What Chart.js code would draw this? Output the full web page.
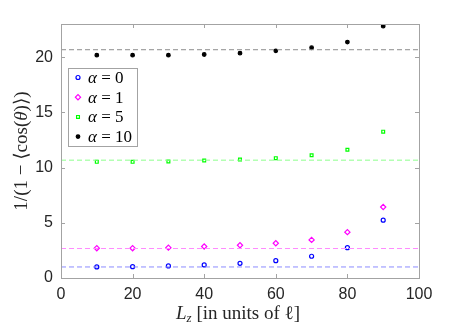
<!DOCTYPE html>
<html>
<head>
<meta charset="utf-8">
<script src="https://cdn.jsdelivr.net/npm/chart.js@4"></script>
<style>
  html, body { margin: 0; padding: 0; background: #fff; }
  canvas { display: block; }
</style>
</head>
<body>
<canvas id="myChart" width="464" height="327"></canvas>
<script>
// data
var lz = [10, 20, 30, 40, 50, 60, 70, 80, 90];
var alpha0 = [1.0, 1.03, 1.09, 1.18, 1.33, 1.57, 1.97, 2.75, 5.24];
var alpha1 = [2.70, 2.70, 2.75, 2.85, 2.97, 3.15, 3.45, 4.15, 6.43];
var alpha5 = [10.52, 10.52, 10.55, 10.64, 10.73, 10.85, 11.12, 11.61, 13.25];
var alpha10 = [20.18, 20.18, 20.18, 20.24, 20.36, 20.57, 20.85, 21.36, 22.8];
var limits = [1, 2.67, 10.67, 20.67];
var alphaLabels = ["0", "1", "5", "10"];
var xRange = [0, 100];
var yRange = [0, 23];
var xTicks = [0, 20, 40, 60, 80, 100];
var yTicks = [0, 5, 10, 15, 20];

var markColors = ["#0000ff", "#ff00ff", "#00ff00", "#000000"];
var dashColors = ["#8c8cff", "#ff8cff", "#8cff8c", "#8c8c8c"];
var serif = "'Liberation Serif', 'DejaVu Serif', serif";
var sans = "'Liberation Sans', Arial, sans-serif";
var frameColor = "#a3a3a3";

function pts(ys) {
  return lz.map(function(x, i) { return { x: x, y: ys[i] }; });
}

var series = [
  { data: alpha0, style: "circle", radius: 2, fill: false },
  { data: alpha1, style: "rectRot", radius: 2.6, fill: false },
  { data: alpha5, style: "rect", radius: 2, fill: false },
  { data: alpha10, style: "circle", radius: 1.8, fill: true }
];

var datasets = [];
// dashed reference levels
limits.forEach(function(v, i) {
  datasets.push({
    type: "line",
    label: "limit",
    data: xRange.map(function(x) { return { x: x, y: v }; }),
    borderColor: dashColors[i],
    borderWidth: 1,
    borderDash: [5, 3],
    pointRadius: 0,
    fill: false
  });
});
series.forEach(function(s, i) {
  datasets.push({
    type: "scatter",
    label: "α = " + alphaLabels[i],
    data: pts(s.data),
    pointStyle: s.style,
    pointRadius: s.radius,
    pointBorderWidth: 1.2,
    borderColor: markColors[i],
    backgroundColor: s.fill ? markColors[i] : "rgba(0,0,0,0)"
  });
});

// draw a row of text pieces with different fonts
function drawRuns(ctx, runs, x, y) {
  runs.forEach(function(r) {
    ctx.font = r[1];
    ctx.fillText(r[0], x, y + (r[2] || 0));
    x += ctx.measureText(r[0]).width;
  });
}
function runsWidth(ctx, runs) {
  var w = 0;
  runs.forEach(function(r) { ctx.font = r[1]; w += ctx.measureText(r[0]).width; });
  return w;
}

var framePlugin = {
  id: "frame",
  afterDraw: function(chart) {
    var ctx = chart.ctx, a = chart.chartArea;
    var sx = chart.scales.x, sy = chart.scales.y;
    ctx.save();
    ctx.strokeStyle = frameColor;
    ctx.lineWidth = 1;
    ctx.strokeRect(Math.round(a.left) + 0.5, Math.round(a.top) + 0.5,
      Math.round(a.right - a.left), Math.round(a.bottom - a.top));
    ctx.beginPath();
    sx.ticks.forEach(function(t) {
      var px = Math.round(sx.getPixelForValue(t.value)) + 0.5;
      ctx.moveTo(px, a.bottom); ctx.lineTo(px, a.bottom - 4);
      ctx.moveTo(px, a.top); ctx.lineTo(px, a.top + 4);
    });
    sy.ticks.forEach(function(t) {
      var py = Math.round(sy.getPixelForValue(t.value)) + 0.5;
      ctx.moveTo(a.left, py); ctx.lineTo(a.left + 4, py);
      ctx.moveTo(a.right, py); ctx.lineTo(a.right - 4, py);
    });
    ctx.stroke();

    // axis titles
    ctx.fillStyle = "#262626";
    ctx.textBaseline = "alphabetic";
    var xt = [
      ["L", "italic 19px " + serif],
      ["z", "italic 13px " + serif, 3],
      [" [in units of ", "19px " + serif],
      ["ℓ", "19px " + serif],
      ["]", "19px " + serif]
    ];
    var w = runsWidth(ctx, xt);
    drawRuns(ctx, xt, (a.left + a.right) / 2 - w / 2 - 2, 319);

    var yt = [
      ["1/(1 − ⟨cos(", "19px " + serif],
      ["θ", "italic 19px " + serif],
      [")⟩)", "19px " + serif]
    ];
    w = runsWidth(ctx, yt);
    ctx.save();
    ctx.translate(27, (a.top + a.bottom) / 2);
    ctx.rotate(-Math.PI / 2);
    drawRuns(ctx, yt, -w / 2, 0);
    ctx.restore();

    // legend box
    var lx = 68, ly = 68, lw = 69, lh = 78;
    ctx.fillStyle = "#fff";
    ctx.fillRect(lx, ly, lw, lh);
    ctx.strokeStyle = frameColor;
    ctx.strokeRect(lx + 0.5, ly + 0.5, lw, lh);
    ctx.textBaseline = "middle";
    series.forEach(function(s, i) {
      var ry = ly + 9.5 + i * 19.7;
      ctx.lineWidth = 1.2;
      ctx.strokeStyle = markColors[i];
      ctx.fillStyle = s.fill ? markColors[i] : "rgba(0,0,0,0)";
      Chart.helpers.drawPoint(ctx, {
        pointStyle: s.style, radius: s.radius, borderWidth: 1.2
      }, lx + 10, ry);
      ctx.fillStyle = "#000";
      drawRuns(ctx, [
        ["α", "italic 17px " + serif],
        [" = ", "17px " + serif],
        [alphaLabels[i], "17px " + serif]
      ], lx + 20, ry + 1);
    });
    ctx.restore();
  }
};

var ctx = document.getElementById("myChart").getContext("2d");
new Chart(ctx, {
  type: "scatter",
  data: { datasets: datasets },
  plugins: [framePlugin],
  options: {
    responsive: false,
    animation: false,
    layout: { padding: { left: 0, right: 45, top: 24, bottom: 0 } },
    plugins: {
      legend: { display: false },
      tooltip: { enabled: false }
    },
    scales: {
      x: {
        type: "linear",
        min: xRange[0],
        max: xRange[1],
        afterBuildTicks: function(s) { s.ticks = xTicks.map(function(v) { return { value: v }; }); },
        afterFit: function(s) { s.height = 49; },
        grid: { display: false, drawTicks: false },
        border: { display: false },
        ticks: {
          padding: 7,
          color: "#262626",
          font: { family: sans, size: 16 },
          maxRotation: 0
        }
      },
      y: {
        type: "linear",
        min: yRange[0],
        max: yRange[1],
        afterBuildTicks: function(s) { s.ticks = yTicks.map(function(v) { return { value: v }; }); },
        afterFit: function(s) { s.width = 61; },
        grid: { display: false, drawTicks: false },
        border: { display: false },
        ticks: {
          padding: 8,
          color: "#262626",
          font: { family: sans, size: 16 }
        }
      }
    }
  }
});
</script>
</body>
</html>
